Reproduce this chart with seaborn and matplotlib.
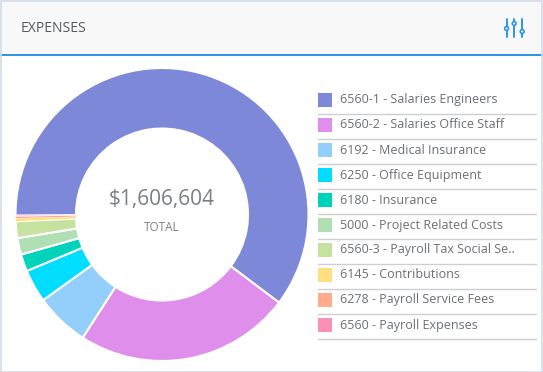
import matplotlib
matplotlib.use("Agg")
import matplotlib.pyplot as plt
import seaborn as sns
from matplotlib.patches import Rectangle, Circle

W, H = 543, 372
labels = ["6560-1 - Salaries Engineers", "6560-2 - Salaries Office Staff", "6192 - Medical Insurance",
          "6250 - Office Equipment", "6180 - Insurance", "5000 - Project Related Costs",
          "6560-3 - Payroll Tax Social Se..", "6145 - Contributions", "6278 - Payroll Service Fees",
          "6560 - Payroll Expenses"]
values = [217.6, 85.9, 21.5, 13.1, 6.8, 6.6, 6.6, 1.2, 0.8, 0.3]
colors = ["#7E88D8", "#E08EEB", "#94CEFA", "#00DDFF", "#00D3BC", "#B0DFB4", "#C5E29E", "#FFDF80", "#FFAB8C", "#F990B8"]
title = "EXPENSES"
total = "$1,606,604"
total_label = "TOTAL"

sns.set_theme(style="white")
plt.rcParams['font.family'] = ['Open Sans', 'DejaVu Sans']
fig = plt.figure(figsize=(W/100, H/100), dpi=100, facecolor="white")
bg = fig.add_axes([0, 0, 1, 1])
bg.set_xlim(0, W); bg.set_ylim(H, 0); bg.axis("off")
bg.add_patch(Rectangle((0, 0), W, 54, fc="#F8F8F9", ec="none"))
bg.add_patch(Rectangle((0, 53.5), W, 2, fc="#2A96E8", ec="none"))
bg.add_patch(Rectangle((0.5, 0.5), W-2, H-1, fc="none", ec="#D3DCE6", lw=1.2))
bg.text(21, 28, title, fontsize=10.1, color="#55595E", va="center", ha="left")
for x0, yk in [(506.6, 28.5), (514.2, 23.5), (522.2, 31.5)]:
    bg.plot([x0, x0], [18.5, 37], color="#2A96E8", lw=1.4)
    bg.add_patch(Circle((x0, yk), 1.9, fc="white", ec="#2A96E8", lw=1.2, zorder=3))

R = 146.5
ax = fig.add_axes([(162-R)/W, 1-(214.5+R)/H, 2*R/W, 2*R/H])
wedges, _ = ax.pie(values, colors=colors, startangle=180.4, counterclock=False, radius=1,
                   wedgeprops=dict(width=1-86/R, edgecolor="white", linewidth=1.5))
for w, v in zip(wedges, values):
    if v < 2:
        w.set_linewidth(0.25)
ax.set_xlim(-1, 1); ax.set_ylim(-1, 1)
ax.text(0, 0.105, total, fontsize=15, color="#7B7F84", ha="center", va="center")
ax.text(0, -0.09, total_label, fontsize=8.4, color="#7B7F84", ha="center", va="center")

for i, (lab, c) in enumerate(zip(labels, colors)):
    y = 100 + i*25
    bg.add_patch(Rectangle((318, y-7), 14, 14, fc=c, ec="none"))
    bg.text(340, y, lab, fontsize=9, color="#6B7075", va="center", ha="left")
    bg.plot([318, 536], [y+13.5, y+13.5], color="#CFCFCF", lw=1)

fig.savefig("out.png", dpi=100, facecolor="white")
